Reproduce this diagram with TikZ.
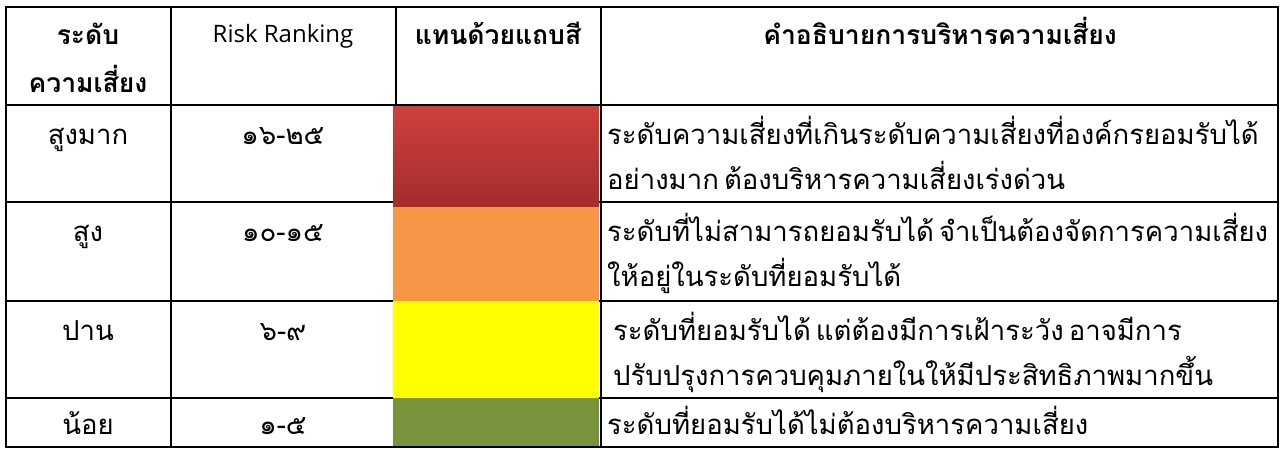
\documentclass[tikz,border=0pt]{standalone}
\usepackage{fontspec}
\setmainfont{Open Sans}
\newfontfamily\thaifont[Script=Thai, WordSpace=0.55]{Loma}
\usetikzlibrary{positioning}
\definecolor{riskred}{HTML}{CD403C}
\definecolor{riskdarkred}{HTML}{A42C2C}
\definecolor{riskorange}{HTML}{F79646}
\definecolor{riskyellow}{HTML}{FFFF00}
\definecolor{riskgreen}{HTML}{77933C}

\begin{document}
\begin{tikzpicture}[x=1pt, y=-1pt,
		gridline/.style={line width=2.2pt, line cap=rect},
		cell/.style={inner sep=0pt, anchor=base, font=\thaifont\fontsize{27.5}{45}\selectfont},
		head/.style={cell, align=center, font=\thaifont\bfseries\fontsize{26.5}{48}\selectfont},
		desc/.style={cell, anchor=base west, align=left}]
	\useasboundingbox (0,0) rectangle (1282,448);

	% grid
	\foreach \xLine in {6, 171, 396, 601, 1278}
	{
		\draw[gridline] (\xLine,7) -- (\xLine,447);
	}
	\foreach \yLine in {7, 105, 202, 301, 398, 447}
	{
		\draw[gridline] (6,\yLine) -- (1278,\yLine);
	}

	% colour bars
	\shade[top color=riskred, bottom color=riskdarkred] (393,106.5) rectangle (599,207);
	\fill[riskorange] (393,207) rectangle (599,301);
	\fill[riskyellow] (393,301) rectangle (599,398);
	\fill[riskgreen] (393,398) rectangle (599,446);

	% header (multi-line nodes sit on their last baseline)
	\node[head] (hLevel) at (88,92) {ระดับ\\ความเสี่ยง};
	\node[cell, font=\fontsize{24}{30}\selectfont] (hRank) at (283,42) {Risk Ranking};
	\node[head] (hBar) at (498,44) {แทนด้วยแถบสี};
	\node[head] (hDesc) at (940,44) {คำอธิบายการบริหารความเสี่ยง};

	% rows
	\foreach \iRow/\yBase/\lvl/\rank in {1/144/สูงมาก/๑๖-๒๕, 2/241/สูง/๑๐-๑๕, 3/340/ปาน/๖-๙, 4/434/น้อย/๑-๕}
	{
		\node[cell] (level\iRow) at (88,\yBase) {\lvl};
		\node[cell] (rank\iRow) at (283,\yBase) {\rank};
	}
	\node[desc] (desc1) at (607,189) {ระดับความเสี่ยงที่เกินระดับความเสี่ยงที่องค์กรยอมรับได้\\อย่างมาก ต้องบริหารความเสี่ยงเร่งด่วน};
	\node[desc] (desc2) at (607,286) {ระดับที่ไม่สามารถยอมรับได้ จำเป็นต้องจัดการความเสี่ยง\\ให้อยู่ในระดับที่ยอมรับได้};
	\node[desc] (desc3) at (613,385) {ระดับที่ยอมรับได้ แต่ต้องมีการเฝ้าระวัง อาจมีการ\\ปรับปรุงการควบคุมภายในให้มีประสิทธิภาพมากขึ้น};
	\node[desc] (desc4) at (607,434) {ระดับที่ยอมรับได้ไม่ต้องบริหารความเสี่ยง};
\end{tikzpicture}
\end{document}
